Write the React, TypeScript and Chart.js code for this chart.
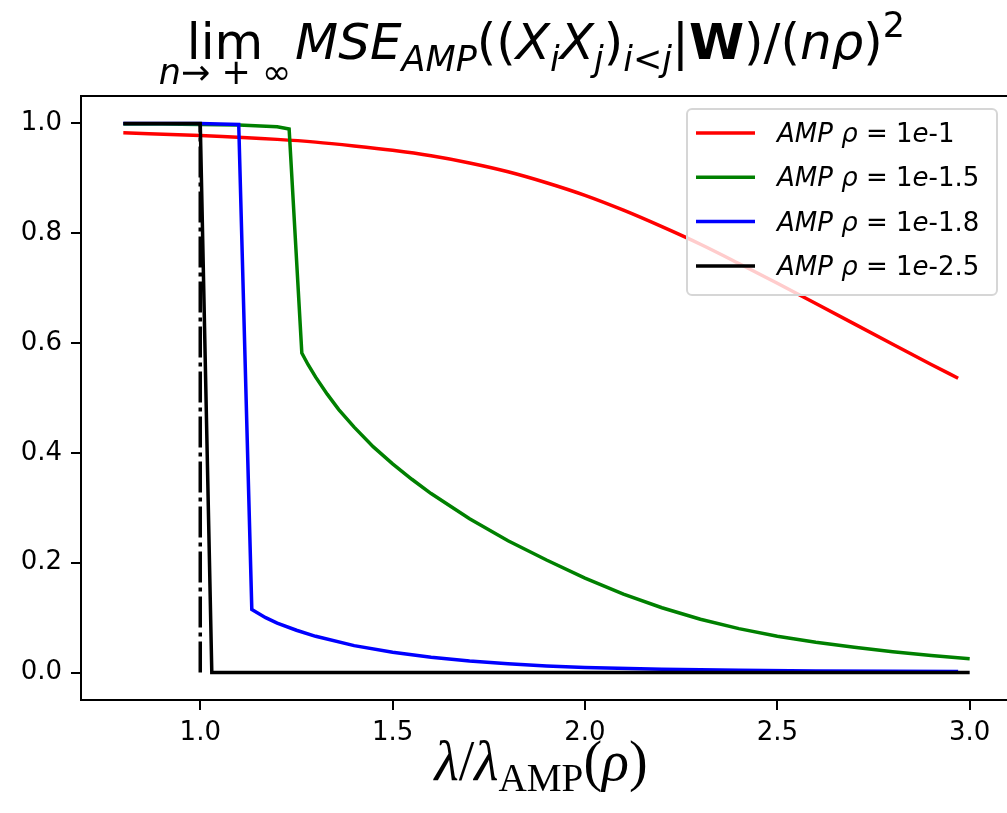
import React, { useEffect, useRef } from "react";
import { Chart, registerables } from "chart.js";

Chart.register(...registerables);

// Axis ticks
const xTicks = [1.0, 1.5, 2.0, 2.5, 3.0];
const yTicks = [0.0, 0.2, 0.4, 0.6, 0.8, 1.0];

// rho = 1e-1
const redX = [0.8, 1.0, 1.2, 1.3, 1.4, 1.5, 1.6, 1.7, 1.8, 1.9, 2.0, 2.1, 2.2, 2.3, 2.4, 2.5, 2.6, 2.7, 2.8, 2.9, 2.97];
const redY = [0.983, 0.978, 0.971, 0.966, 0.959, 0.951, 0.941, 0.928, 0.912, 0.892, 0.869, 0.842, 0.812, 0.78, 0.745, 0.709, 0.672, 0.635, 0.598, 0.561, 0.536];

// rho = 1e-1.5
const greenX = [0.8, 0.9, 1.0, 1.1, 1.2, 1.231, 1.264, 1.28, 1.3, 1.33, 1.36, 1.4, 1.45, 1.5, 1.55, 1.6, 1.7, 1.8, 1.9, 2.0, 2.1, 2.2, 2.3, 2.4, 2.5, 2.6, 2.7, 2.8, 2.9, 3.0];
const greenY = [0.999, 0.999, 0.998, 0.997, 0.994, 0.99, 0.582, 0.561, 0.538, 0.507, 0.479, 0.447, 0.411, 0.38, 0.352, 0.326, 0.28, 0.24, 0.205, 0.172, 0.143, 0.118, 0.097, 0.08, 0.066, 0.055, 0.046, 0.038, 0.031, 0.025];

// rho = 1e-1.8
const blueX = [0.8, 0.9, 1.0, 1.05, 1.1, 1.134, 1.17, 1.2, 1.25, 1.3, 1.4, 1.5, 1.6, 1.7, 1.8, 1.9, 2.0, 2.2, 2.4, 2.6, 2.8, 2.97];
const blueY = [1.0, 1.0, 1.0, 0.999, 0.998, 0.115, 0.1, 0.09, 0.077, 0.066, 0.049, 0.037, 0.028, 0.021, 0.016, 0.012, 0.009, 0.006, 0.004, 0.003, 0.0025, 0.002];

// rho = 1e-2.5
const blackX = [0.8, 0.9, 1.0, 1.03, 1.5, 2.0, 2.5, 3.0];
const blackY = [1.0, 1.0, 1.0, 0.0, 0.0, 0.0, 0.0, 0.0];

// Threshold marker at lambda / lambda_AMP = 1
const cutoffX = [1.0, 1.0];
const cutoffY = [0.0, 1.0];

const seriesExponents = ["-1", "-1.5", "-1.8", "-2.5"];
const seriesColors = ["#ff0000", "#008000", "#0000ff", "#000000"];

const FONT = '"DejaVu Sans"';
const SERIF = '"Liberation Serif"';

type Run = { t: string; s?: "r" | "i" | "b"; lvl?: number };

function fontFor(r: Run, F: number, family: string) {
  const size = r.lvl ? F * 0.7 : F;
  const style = r.s === "i" ? "italic " : r.s === "b" ? "bold " : "";
  return `${style}${size}px ${family}`;
}

function runsWidth(ctx: CanvasRenderingContext2D, runs: Run[], F: number, family: string) {
  let w = 0;
  for (const r of runs) {
    ctx.font = fontFor(r, F, family);
    w += ctx.measureText(r.t).width;
  }
  return w;
}

function drawRuns(ctx: CanvasRenderingContext2D, runs: Run[], x: number, base: number, F: number, family: string, subDy = 0.22, supDy = 0.42) {
  for (const r of runs) {
    ctx.font = fontFor(r, F, family);
    const dy = r.lvl === -1 ? F * subDy : r.lvl === 1 ? -F * supDy : 0;
    ctx.fillText(r.t, x, base + dy);
    x += ctx.measureText(r.t).width;
  }
  return x;
}

const titleRuns: Run[] = [
  { t: "MSE", s: "i" },
  { t: "AMP", s: "i", lvl: -1 },
  { t: "((", s: "r" },
  { t: "X", s: "i" },
  { t: "i", s: "i", lvl: -1 },
  { t: "X", s: "i" },
  { t: "j", s: "i", lvl: -1 },
  { t: ")", s: "r" },
  { t: "i", s: "i", lvl: -1 },
  { t: "<", s: "r", lvl: -1 },
  { t: "j", s: "i", lvl: -1 },
  { t: "|", s: "r" },
  { t: "W", s: "b" },
  { t: ")/(", s: "r" },
  { t: "nρ", s: "i" },
  { t: ")", s: "r" },
  { t: "2", s: "r", lvl: 1 },
];

const limSubRuns: Run[] = [
  { t: "n", s: "i", lvl: -1 },
  { t: "→ + ∞", s: "r", lvl: -1 },
];

const xLabelRuns: Run[] = [
  { t: "λ", s: "i" },
  { t: "/", s: "r" },
  { t: "λ", s: "i" },
  { t: "AMP", s: "r", lvl: -1 },
  { t: "(", s: "r" },
  { t: "ρ", s: "i" },
  { t: ")", s: "r" },
];

const decorations = {
  id: "decorations",
  afterDraw(chart: any) {
    const ctx: CanvasRenderingContext2D = chart.ctx;
    const a = chart.chartArea;
    ctx.save();
    ctx.fillStyle = "#000";
    ctx.textBaseline = "alphabetic";
    ctx.textAlign = "left";

    // Frame (top and right edges)
    ctx.strokeStyle = "#000";
    ctx.lineWidth = 2;
    ctx.beginPath();
    ctx.moveTo(a.left, a.top);
    ctx.lineTo(a.right, a.top);
    ctx.lineTo(a.right, a.bottom);
    ctx.stroke();

    // Title
    const F = 50;
    const base = 59;
    const subW = runsWidth(ctx, limSubRuns, F, FONT);
    ctx.font = `${F}px ${FONT}`;
    const limW = ctx.measureText("lim").width;
    const blockW = Math.max(subW, limW);
    const restW = runsWidth(ctx, titleRuns, F, FONT);
    const gap = 4;
    const total = blockW + gap + restW;
    const x0 = 532 - total / 2;
    ctx.font = `${F}px ${FONT}`;
    ctx.fillText("lim", x0 + (blockW - limW) / 2, base);
    drawRuns(ctx, limSubRuns, x0 + (blockW - subW) / 2, base + 25 - F * 0.22, F, FONT);
    drawRuns(ctx, titleRuns, x0 + blockW + gap, base, F, FONT, 0.24, 0.45);

    // X-axis label
    const XF = 56;
    const xw = runsWidth(ctx, xLabelRuns, XF, SERIF);
    drawRuns(ctx, xLabelRuns, 541 - xw / 2, 780, XF, SERIF, 0.2, 0.4);

    // Legend
    const lx = 687, ly = 109, lw = 310, lh = 186;
    ctx.beginPath();
    ctx.roundRect(lx, ly, lw, lh, 5);
    ctx.fillStyle = "rgba(255,255,255,0.8)";
    ctx.fill();
    ctx.strokeStyle = "#d6d6d6";
    ctx.lineWidth = 2;
    ctx.stroke();
    const LF = 26;
    seriesExponents.forEach((ex, i) => {
      const cy = 133 + i * 44.3;
      ctx.strokeStyle = seriesColors[i];
      ctx.lineWidth = 3.5;
      ctx.beginPath();
      ctx.moveTo(696, cy);
      ctx.lineTo(755, cy);
      ctx.stroke();
      ctx.fillStyle = "#000";
      const runs: Run[] = [
        { t: "AMP ρ", s: "i" },
        { t: " = 1", s: "r" },
        { t: "e", s: "i" },
        { t: ex, s: "r" },
      ];
      drawRuns(ctx, runs, 777, cy + 9, LF, FONT);
    });
    ctx.restore();
  },
};

function pts(xs: number[], ys: number[]) {
  return xs.map((x, i) => ({ x, y: ys[i] }));
}

export default function App() {
  const ref = useRef<HTMLCanvasElement>(null);
  useEffect(() => {
    if (!ref.current) return;
    const line = (data: any, color: string, order: number, extra: any = {}) => ({
      data,
      borderColor: color,
      backgroundColor: color,
      borderWidth: 3.5,
      pointRadius: 0,
      showLine: true,
      fill: false,
      tension: 0,
      order,
      ...extra,
    });
    const tickFont = { family: "DejaVu Sans", size: 26 };
    const chart = new Chart(ref.current, {
      type: "scatter",
      data: {
        datasets: [
          line(pts(redX, redY), seriesColors[0], 5, { cubicInterpolationMode: "monotone" }),
          line(pts(greenX, greenY), seriesColors[1], 4),
          line(pts(blueX, blueY), seriesColors[2], 3),
          line(pts(blackX, blackY), seriesColors[3], 2),
          line(pts(cutoffX, cutoffY), "#000000", 1, { borderDash: [31, 5, 4, 5], borderCapStyle: "butt" }),
        ],
      },
      options: {
        animation: false,
        responsive: false,
        devicePixelRatio: 1,
        events: [],
        layout: { padding: { left: 0, top: 96, right: 18, bottom: 0 } },
        plugins: {
          legend: { display: false },
          title: { display: false },
          tooltip: { enabled: false },
        },
        scales: {
          x: {
            type: "linear",
            min: 0.69,
            max: 3.11,
            afterBuildTicks: (s: any) => {
              s.ticks = xTicks.map((v) => ({ value: v }));
            },
            afterFit: (s: any) => {
              s.height = 113;
            },
            grid: { display: true, drawOnChartArea: false, drawTicks: true, tickLength: 10, tickWidth: 2, lineWidth: 2, color: "#000" },
            border: { display: true, color: "#000", width: 2 },
            ticks: { font: tickFont, color: "#000", padding: 8, maxRotation: 0, callback: (v: any) => Number(v).toFixed(1) },
          },
          y: {
            type: "linear",
            min: -0.05,
            max: 1.05,
            afterBuildTicks: (s: any) => {
              s.ticks = yTicks.map((v) => ({ value: v }));
            },
            afterFit: (s: any) => {
              s.width = 81;
            },
            grid: { display: true, drawOnChartArea: false, drawTicks: true, tickLength: 10, tickWidth: 2, lineWidth: 2, color: "#000" },
            border: { display: true, color: "#000", width: 2 },
            ticks: { font: tickFont, color: "#000", padding: 9, callback: (v: any) => Number(v).toFixed(1) },
          },
        },
      },
      plugins: [decorations],
    } as any);
    return () => chart.destroy();
  }, []);
  return (
    <div style={{ position: "fixed", left: 0, top: 0, width: "100vw", height: "100vh", overflow: "hidden", background: "#fff" }}>
      <canvas ref={ref} width={1030} height={813} style={{ width: 1030, height: 813, display: "block" }} />
    </div>
  );
}
